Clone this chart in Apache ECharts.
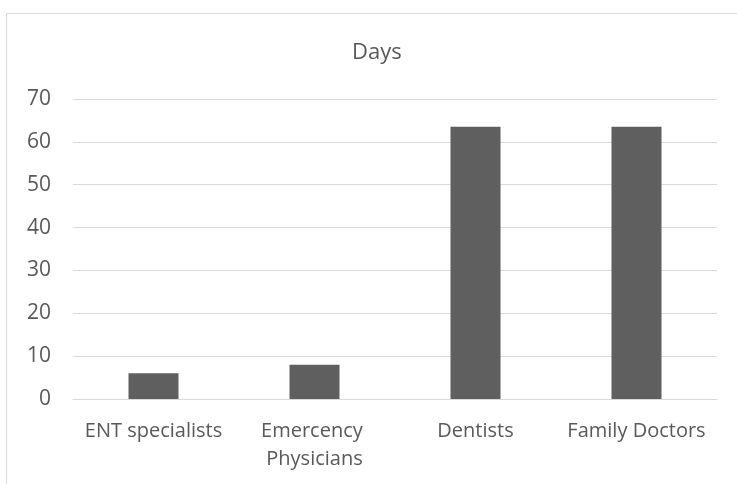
<!DOCTYPE html>
<html>
<head>
<meta charset="utf-8">
<script src="https://cdn.jsdelivr.net/npm/echarts@6/dist/echarts.min.js"></script>
<style>html,body{margin:0;padding:0;background:#fff;}#c{width:737px;height:484px;}</style>
</head>
<body>
<div id="c"></div>
<script>
const categories = ["ENT specialists", "Emercency Physicians", "Dentists", "Family Doctors"];
const days = [6, 8, 63.5, 63.5];
const yTicks = [0, 10, 20, 30, 40, 50, 60, 70];
const titleText = "Days";

const chart = echarts.init(document.getElementById('c'), null, {renderer: 'canvas'});
const font = '"Open Sans", "Noto Sans", sans-serif';
chart.setOption({
  animation: false,
  backgroundColor: '#ffffff',
  graphic: [{
    type: 'rect', z: -1,
    shape: {x: 6.5, y: 13.5, width: 900, height: 700},
    style: {fill: 'none', stroke: '#d9d9d9', lineWidth: 1}
  }],
  title: {
    text: titleText, left: 347, top: 37,
    textStyle: {fontFamily: font, fontSize: 22, fontWeight: 'normal', color: '#595959'}
  },
  grid: {left: 73, right: 20, top: 99, bottom: 85, containLabel: false},
  xAxis: {
    type: 'category', data: categories,
    axisLine: {lineStyle: {color: '#d9d9d9', width: 1}},
    axisTick: {show: false},
    axisLabel: {
      fontFamily: font, fontSize: 20, color: '#595959', margin: 18,
      lineHeight: 28, width: 158, overflow: 'break', interval: 0
    }
  },
  yAxis: {
    type: 'value', min: yTicks[0], max: yTicks[yTicks.length - 1], interval: 10,
    axisLine: {show: false}, axisTick: {show: false},
    splitLine: {lineStyle: {color: '#d9d9d9', width: 1}},
    axisLabel: {fontFamily: font, fontSize: 21, color: '#595959', margin: 22, padding: [3, 0, 0, 0]}
  },
  series: [{
    type: 'bar', data: days, barWidth: 50,
    itemStyle: {color: '#5f5f5f'}
  }]
});
</script>
</body>
</html>
